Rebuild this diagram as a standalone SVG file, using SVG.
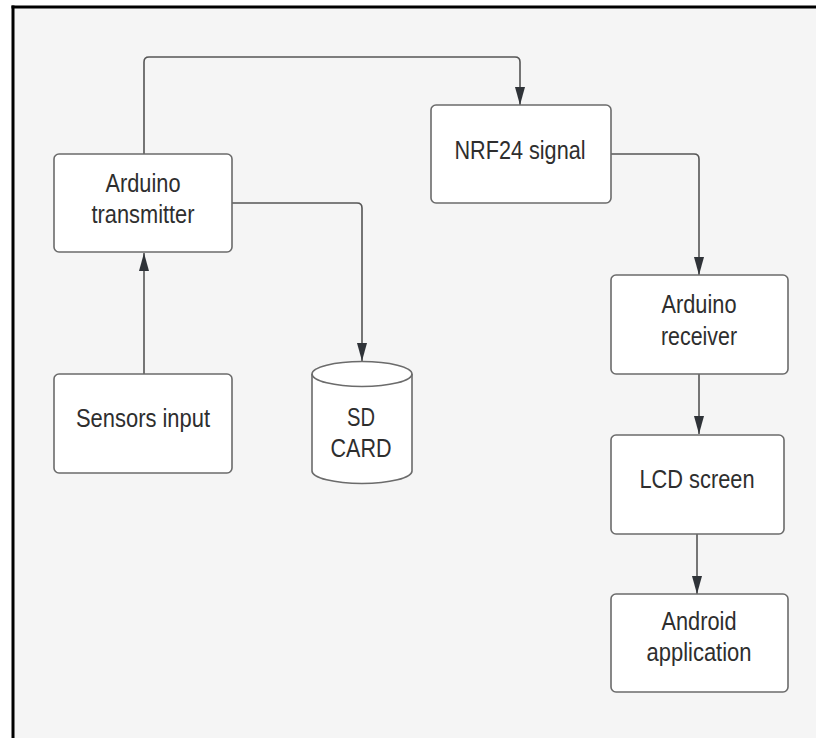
<svg xmlns="http://www.w3.org/2000/svg" width="816" height="738" viewBox="0 0 816 738">
<defs>
<marker id="arr" markerUnits="userSpaceOnUse" markerWidth="18" markerHeight="10" refX="18" refY="5" viewBox="0 0 18 10" orient="auto">
<path d="M0,0 L18,5 L0,10 Z" fill="#2f3338"/>
</marker>
<style>
.box{fill:#ffffff;stroke:#6b6b6b;stroke-width:1.6}
.lbl{font-family:"Liberation Sans",Arial,sans-serif;font-size:25px;fill:#2e2e2e;text-anchor:middle}
.con{fill:none;stroke:#555555;stroke-width:1.6;marker-end:url(#arr)}
</style>
</defs>
<rect x="0" y="0" width="816" height="738" fill="#ffffff"/>
<rect x="13" y="7" width="803" height="731" fill="#f5f5f5"/>
<line x1="11.5" y1="7" x2="816" y2="7" stroke="#000" stroke-width="3"/>
<line x1="13" y1="5.5" x2="13" y2="738" stroke="#000" stroke-width="3"/>

<g id="connectors">
<path class="con" d="M144,154 L144,62 Q144,57 149,57 L515,57 Q520,57 520,62 L520,105"/>
<path class="con" d="M144,374 L144,253"/>
<path class="con" d="M232,203 L357,203 Q362,203 362,208 L362,361"/>
<path class="con" d="M611,154 L694,154 Q699,154 699,159 L699,275"/>
<path class="con" d="M699,374 L699,434"/>
<path class="con" d="M697,534 L697,594"/>
</g>

<g id="arduino-transmitter">
<rect class="box" x="54" y="154" width="178" height="98" rx="5"/>
<text class="lbl" x="143" y="192" textLength="75" lengthAdjust="spacingAndGlyphs">Arduino</text>
<text class="lbl" x="143" y="223" textLength="103" lengthAdjust="spacingAndGlyphs">transmitter</text>
</g>

<g id="sensors-input">
<rect class="box" x="54" y="374" width="178" height="99" rx="5"/>
<text class="lbl" x="143" y="427" textLength="134" lengthAdjust="spacingAndGlyphs">Sensors input</text>
</g>

<g id="sd-card">
<path class="box" d="M312,374 A50,12.5 0 0 1 412,374 L412,471 A50,12.5 0 0 1 312,471 Z"/>
<path d="M312,374 A50,12.5 0 0 0 412,374" fill="none" stroke="#6b6b6b" stroke-width="1.6"/>
<text class="lbl" x="361" y="426" textLength="28" lengthAdjust="spacingAndGlyphs">SD</text>
<text class="lbl" x="361" y="457" textLength="61" lengthAdjust="spacingAndGlyphs">CARD</text>
</g>

<g id="nrf24-signal">
<rect class="box" x="431" y="105" width="180" height="98" rx="5"/>
<text class="lbl" x="520" y="159" textLength="131" lengthAdjust="spacingAndGlyphs">NRF24 signal</text>
</g>

<g id="arduino-receiver">
<rect class="box" x="611" y="275" width="177" height="99" rx="5"/>
<text class="lbl" x="699" y="313" textLength="75" lengthAdjust="spacingAndGlyphs">Arduino</text>
<text class="lbl" x="699" y="345" textLength="76" lengthAdjust="spacingAndGlyphs">receiver</text>
</g>

<g id="lcd-screen">
<rect class="box" x="611" y="435" width="173" height="99" rx="5"/>
<text class="lbl" x="697" y="488" textLength="115" lengthAdjust="spacingAndGlyphs">LCD screen</text>
</g>

<g id="android-application">
<rect class="box" x="611" y="594" width="177" height="98" rx="5"/>
<text class="lbl" x="699" y="630" textLength="75" lengthAdjust="spacingAndGlyphs">Android</text>
<text class="lbl" x="699" y="661" textLength="105" lengthAdjust="spacingAndGlyphs">application</text>
</g>
</svg>
